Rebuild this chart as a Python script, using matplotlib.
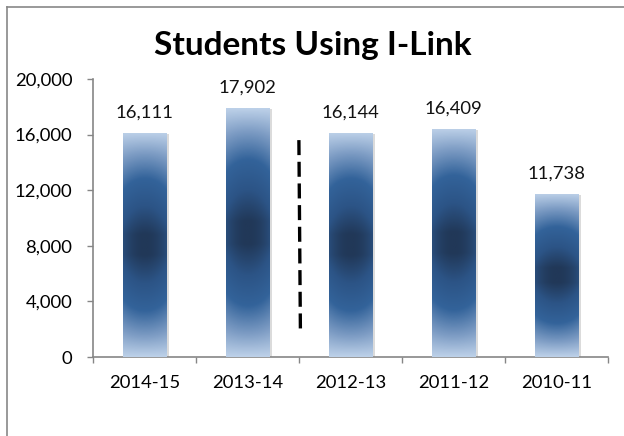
import numpy as np
import matplotlib
matplotlib.use("Agg")
import matplotlib.pyplot as plt
import matplotlib.patheffects as pe
from matplotlib.colors import LinearSegmentedColormap
from matplotlib.lines import Line2D

# data
years = ["2014-15", "2013-14", "2012-13", "2011-12", "2010-11"]
students = [16111, 17902, 16144, 16409, 11738]
y_ticks = [0, 4000, 8000, 12000, 16000, 20000]
divider_x = 1.5
divider_span = [1600, 15600]

plt.rcParams["font.family"] = ["Lato", "DejaVu Sans"]

fig = plt.figure(figsize=(6.24, 4.36), dpi=100)
ax = fig.add_axes([0.149, 0.181, 0.825, 0.638])

# gradient fill: light at the ends, mid blue bands, dark spot in the middle
cmap = LinearSegmentedColormap.from_list(
    "bar", [(0.0, "#bcd0e8"), (0.2, "#7d9cc4"), (0.45, "#33639a"),
            (0.72, "#2c5486"), (1.0, "#213858")])
yy = np.linspace(0, 1, 200)[:, None]
xx = np.linspace(0, 1, 40)[None, :]
v = 1 - np.abs(2 * yy - 1)
v = np.clip(v * 1.1, 0, 1) * (1 - 0.2 * np.abs(2 * xx - 1) ** 2)

x = np.arange(len(years))
width = 0.42
bars = ax.bar(x, students, width=width, color="white", zorder=2,
              path_effects=[pe.SimplePatchShadow(offset=(2, -1), shadow_rgbFace="#999999", alpha=0.35),
                            pe.Normal()])
for xi, h, b in zip(x, students, bars):
    im = ax.imshow(v, cmap=cmap, vmin=0, vmax=1, aspect="auto", origin="lower",
                   extent=(xi - width / 2, xi + width / 2, 0, h), zorder=3,
                   interpolation="bilinear")
    im.set_clip_path(b)
    ax.text(xi, h + 1450, f"{h:,}", ha="center", va="center", fontsize=13.3, color="#111111")

ax.set_xlim(-0.5, len(years) - 0.5)
ax.set_ylim(0, 20000)
ax.set_yticks(y_ticks)
ax.set_yticklabels([f"{t:,}" for t in y_ticks], fontsize=13.3)
ax.set_xticks(x)
ax.set_xticklabels(years, fontsize=13.3)
ax.set_xticks(np.arange(len(years) + 1) - 0.5, minor=True)
ax.tick_params(axis="x", which="major", length=0, pad=13)
ax.tick_params(axis="x", which="minor", length=4, color="#868686", width=1)
ax.tick_params(axis="y", length=4, color="#868686", width=1, pad=11)
for s in ["top", "right"]:
    ax.spines[s].set_visible(False)
for s in ["left", "bottom"]:
    ax.spines[s].set_color("#868686")
    ax.spines[s].set_linewidth(1.2)

ax.plot([divider_x, divider_x + 0.015], [divider_span[1], divider_span[0]], color="black",
        lw=2.4, linestyle=(0, (4.5, 2.0)), zorder=4)

ax.set_title("Students Using I-Link", fontsize=24, fontweight="bold", pad=17, x=0.427)

# chart frame (only the top and left edges fall inside the picture)
fig.add_artist(Line2D([0.012, 1.0], [0.984, 0.984], color="#888888", lw=1.2))
fig.add_artist(Line2D([0.012, 0.012], [0.0, 0.984], color="#888888", lw=1.2))

fig.savefig("out.png", dpi=100)
